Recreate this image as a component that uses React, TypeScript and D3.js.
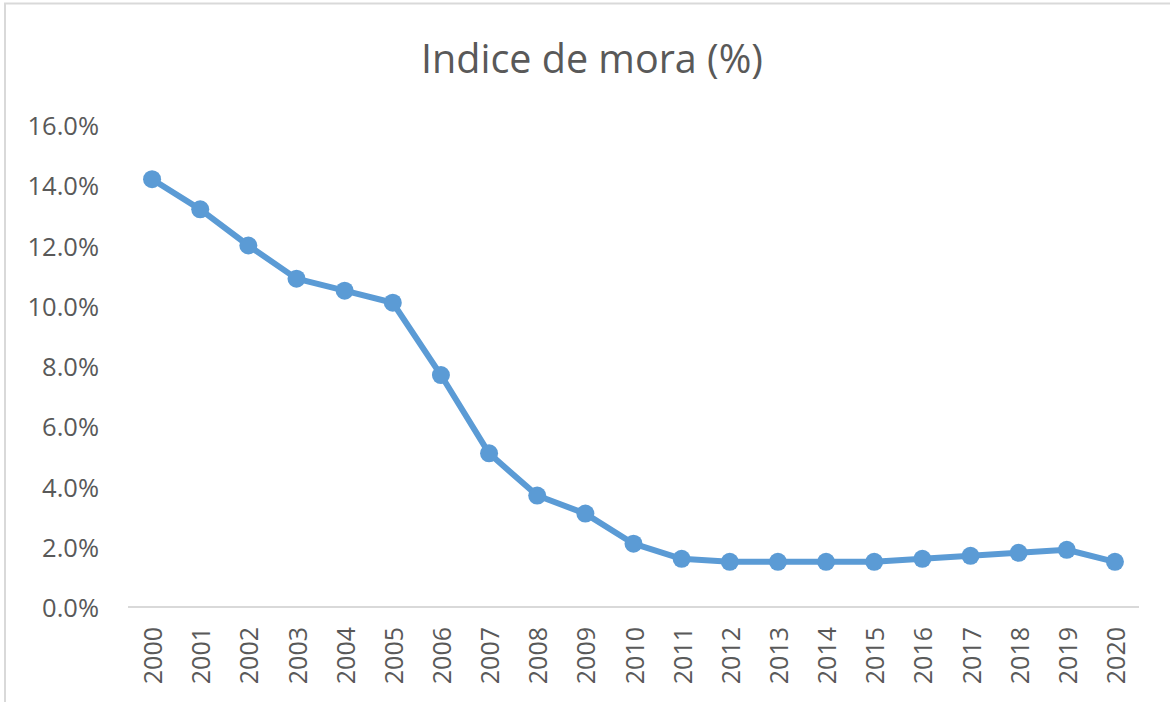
import React from "react";
import * as d3 from "d3";

const years: string[] = [
  "2000", "2001", "2002", "2003", "2004", "2005", "2006", "2007", "2008", "2009", "2010",
  "2011", "2012", "2013", "2014", "2015", "2016", "2017", "2018", "2019", "2020",
];
const mora: number[] = [
  14.2, 13.2, 12.0, 10.9, 10.5, 10.1, 7.7, 5.1, 3.7, 3.1, 2.1,
  1.6, 1.5, 1.5, 1.5, 1.5, 1.6, 1.7, 1.8, 1.9, 1.5,
];
const yTicks: number[] = [0, 2, 4, 6, 8, 10, 12, 14, 16];
const title = "Indice de mora (%)";

const W = 1170;
const H = 702;
const FONT = "'Open Sans', 'Noto Sans', sans-serif";
const COLOR = "#5b9bd5";
const TEXT = "#595959";

export default function App() {
  const x = d3.scaleBand<string>().domain(years).range([128, 1139]);
  const y = d3.scaleLinear().domain([0, 16]).range([607, 125]);
  const cx = (yr: string) => (x(yr) as number) + x.bandwidth() / 2;
  const line = d3
    .line<number>()
    .x((_, i) => cx(years[i]))
    .y((d) => y(d));

  return (
    <svg
      width={W}
      height={H}
      style={{ position: "absolute", left: 0, top: 0, background: "#fff" }}
      fontFamily={FONT}
    >
      <rect x={0} y={0} width={W} height={H} fill="#fff" />
      <rect x={5} y={3.5} width={W + 10} height={H + 10} fill="none" stroke="#d9d9d9" strokeWidth={2} />
      <text x={592} y={73} textAnchor="middle" fontSize={39.5} fill={TEXT}>
        {title}
      </text>
      {yTicks.map((t) => (
        <text
          key={t}
          x={99}
          y={y(t)}
          textAnchor="end"
          dominantBaseline="central"
          fontSize={25.5}
          fill={TEXT}
        >
          {t.toFixed(1) + "%"}
        </text>
      ))}
      <line x1={128} x2={1139} y1={y(0)} y2={y(0)} stroke="#d9d9d9" strokeWidth={2} />
      {years.map((yr) => (
        <text
          key={yr}
          transform={`translate(${cx(yr)},627) rotate(-90)`}
          textAnchor="end"
          dominantBaseline="central"
          fontSize={25}
          fill={TEXT}
        >
          {yr}
        </text>
      ))}
      <path d={line(mora) || ""} fill="none" stroke={COLOR} strokeWidth={6} strokeLinejoin="round" />
      {mora.map((v, i) => (
        <circle key={years[i]} cx={cx(years[i])} cy={y(v)} r={9} fill={COLOR} />
      ))}
    </svg>
  );
}
